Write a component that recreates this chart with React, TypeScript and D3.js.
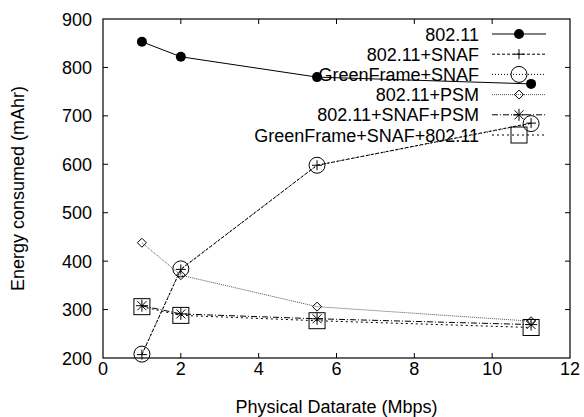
import React from "react";
import * as d3 from "d3";

const xs = [1, 2, 5.5, 11];
const s80211 = [853, 822, 780, 766];
const sSnaf = [207, 383, 598, 685];
const sGfSnaf = [208, 384, 598, 684];
const sPsm = [438, 371, 306, 276];
const sSnafPsm = [308, 291, 281, 269];
const sGfSnaf80211 = [306, 288, 277, 263];
const seriesNames = ["802.11", "802.11+SNAF", "GreenFrame+SNAF", "802.11+PSM", "802.11+SNAF+PSM", "GreenFrame+SNAF+802.11"];
const xTicks = [0, 2, 4, 6, 8, 10, 12];
const yTicks = [200, 300, 400, 500, 600, 700, 800, 900];

const W = 584, H = 417;
const L = 103, R = 570, T = 19, B = 358;
const FONT = "'Liberation Sans', Arial, Helvetica, sans-serif";

type Kind = "dot" | "plus" | "circle" | "diamond" | "star" | "square";
const styles: { dash: string; color: string; width: number; kind: Kind }[] = [
  { dash: "", color: "#000", width: 1, kind: "dot" },
  { dash: "3,2", color: "#000", width: 1, kind: "plus" },
  { dash: "1,2", color: "#000", width: 1, kind: "circle" },
  { dash: "1,1", color: "#555", width: 1, kind: "diamond" },
  { dash: "6,2,1,2", color: "#000", width: 1, kind: "star" },
  { dash: "2,3", color: "#000", width: 1, kind: "square" },
];
const allSeries = [s80211, sSnaf, sGfSnaf, sPsm, sSnafPsm, sGfSnaf80211];

function Marker({ kind, x, y }: { kind: Kind; x: number; y: number }) {
  const st = { stroke: "#000", strokeWidth: 1, fill: "none" };
  switch (kind) {
    case "dot":
      return <circle cx={x} cy={y} r={5} fill="#000" />;
    case "plus":
      return <path d={`M${x - 5},${y}H${x + 5}M${x},${y - 5}V${y + 5}`} {...st} />;
    case "circle":
      return <circle cx={x} cy={y} r={8} {...st} />;
    case "diamond":
      return <path d={`M${x},${y - 4.5}L${x + 4.5},${y}L${x},${y + 4.5}L${x - 4.5},${y}Z`} {...st} />;
    case "star":
      return (
        <path
          d={`M${x - 6},${y}H${x + 6}M${x},${y - 6}V${y + 6}M${x - 4.5},${y - 4.5}L${x + 4.5},${y + 4.5}M${x - 4.5},${y + 4.5}L${x + 4.5},${y - 4.5}`}
          {...st}
        />
      );
    case "square":
      return <rect x={x - 8} y={y - 8} width={16} height={16} {...st} />;
  }
}

export default function App() {
  const x = d3.scaleLinear().domain([0, 12]).range([L, R]);
  const y = d3.scaleLinear().domain([200, 900]).range([B, T]);
  const line = d3.line<number>().x((_, i) => x(xs[i])).y((d) => y(d));
  const legX1 = 492, legX2 = 546, legTextX = 479;
  return (
    <svg width={W} height={H} style={{ position: "absolute", left: 0, top: 0 }} fontFamily={FONT}>
      <rect width={W} height={H} fill="#fff" />
      {/* ticks */}
      {xTicks.slice(1, -1).map((t) => (
        <g key={"xt" + t}>
          <line x1={x(t)} x2={x(t)} y1={B} y2={B - 5} stroke="#000" />
          <line x1={x(t)} x2={x(t)} y1={T} y2={T + 5} stroke="#000" />
        </g>
      ))}
      {yTicks.slice(1, -1).map((t) => (
        <g key={"yt" + t}>
          <line x1={L} x2={L + 5} y1={y(t)} y2={y(t)} stroke="#000" />
          <line x1={R} x2={R - 5} y1={y(t)} y2={y(t)} stroke="#000" />
        </g>
      ))}
      {xTicks.map((t) => (
        <text key={"xl" + t} x={x(t)} y={375} fontSize={18} textAnchor="middle">{t}</text>
      ))}
      {yTicks.map((t) => (
        <text key={"yl" + t} x={92} y={y(t) + 6.5} fontSize={18} textAnchor="end">{t}</text>
      ))}
      <text x={(L + R) / 2} y={413} fontSize={18} textAnchor="middle">Physical Datarate (Mbps)</text>
      <text transform={`translate(24,${(T + B) / 2}) rotate(-90)`} fontSize={18} textAnchor="middle">Energy consumed (mAhr)</text>
      {/* series */}
      {allSeries.map((s, i) => (
        <g key={"s" + i}>
          <path d={line(s) || ""} fill="none" stroke={styles[i].color} strokeWidth={styles[i].width} strokeDasharray={styles[i].dash} />
          {s.map((v, j) => (
            <Marker key={j} kind={styles[i].kind} x={x(xs[j])} y={y(v)} />
          ))}
        </g>
      ))}
      {/* legend */}
      {seriesNames.map((n, i) => {
        const ly = 34 + i * 20.2;
        return (
          <g key={"lg" + i}>
            <text x={legTextX} y={ly + 6.5} fontSize={18} textAnchor="end">{n}</text>
            <line x1={legX1} x2={legX2} y1={ly} y2={ly} stroke={styles[i].color} strokeDasharray={styles[i].dash} />
            <Marker kind={styles[i].kind} x={(legX1 + legX2) / 2} y={ly} />
          </g>
        );
      })}
      <rect x={L} y={T} width={R - L} height={B - T} fill="none" stroke="#000" strokeWidth={1.2} />
    </svg>
  );
}
